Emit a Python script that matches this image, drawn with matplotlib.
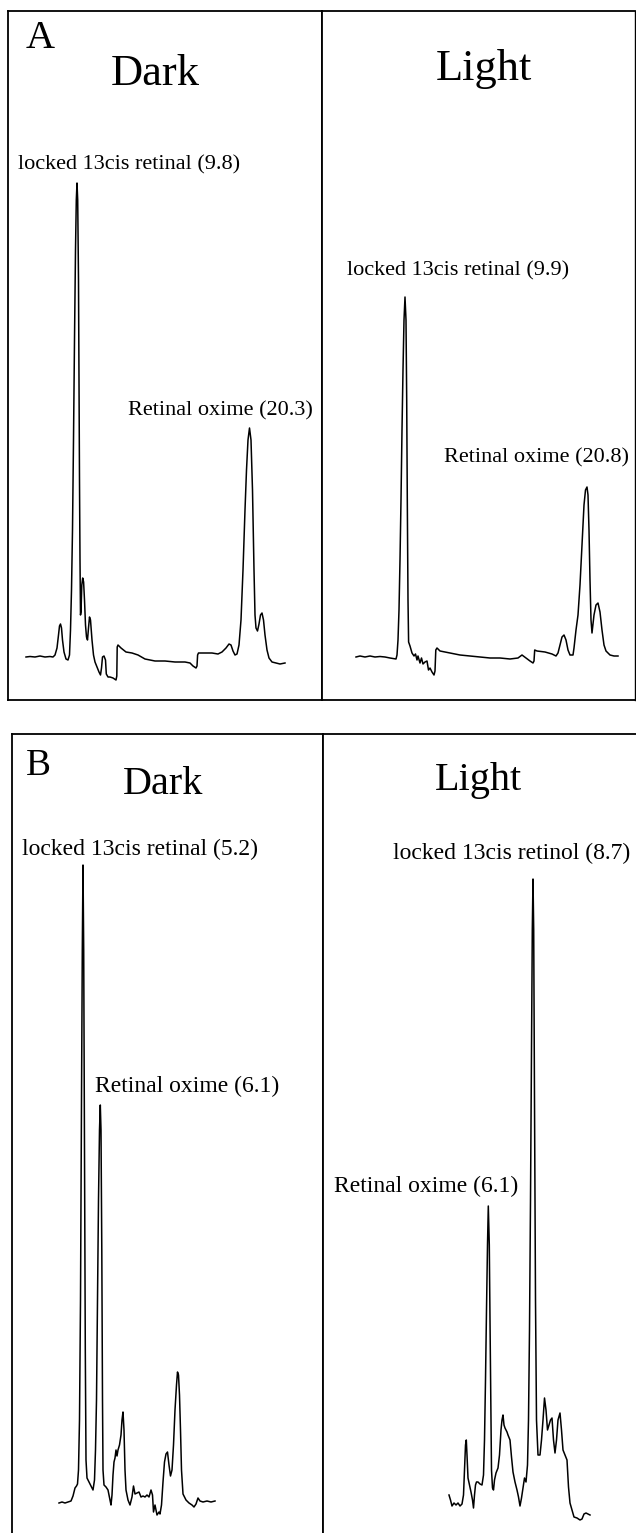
import numpy as np
import matplotlib.pyplot as plt

plt.rcParams['font.family'] = ['Liberation Serif', 'DejaVu Serif']

W, H = 636, 1533

# chromatogram traces (x position, trace level)
a_dark_x = [26, 30, 35, 40, 45, 50, 53, 55, 57, 58.5, 59.5, 60.5, 61.5, 62.5, 64, 66, 68, 69.5, 70.5, 71.5,
            72.5, 73.5, 74.5, 75.5, 76.3, 77, 77.7, 78.5, 79, 79.5, 80, 80.5, 81, 81.8, 82.7, 83.6, 84.5, 85.5,
            86.5, 87.5, 88.5, 89.5, 90.5, 92, 93.5, 95, 97, 99, 100.5, 101.5, 102.5, 104, 105.5, 106.3, 108,
            110, 113, 116, 116.8, 117.2, 118, 121, 126, 132, 138, 145, 155, 165, 175, 185, 190, 193, 196, 197,
            197.6, 198.5, 205, 212, 218, 222, 226, 229, 231, 233, 235, 237, 239, 241, 243, 245, 246.5, 248,
            249.5, 251, 252.5, 254, 255, 256, 257.5, 259, 260.5, 262, 263.5, 265, 267, 269, 272, 276, 280, 285]
a_dark_y = [657, 656.5, 657, 656, 657, 656.5, 657, 655, 648, 635, 626, 624, 628, 640, 652, 659, 660, 655, 630, 590,
            530, 440, 340, 250, 200, 183, 200, 280, 380, 480, 560, 615, 612, 585, 578, 582, 600, 625,
            637, 640, 628, 617, 620, 640, 655, 662, 667, 672, 675, 668, 657, 656, 660, 674, 677,
            677, 678, 680, 676, 647, 645, 648, 652, 653, 655, 659, 661, 661, 662, 662, 663, 666, 668, 666,
            655, 653, 653, 653, 654, 652, 648, 644, 645, 651, 655, 654, 645, 620, 570, 510, 470, 440,
            428, 440, 490, 570, 615, 628, 631, 624, 615, 613, 620, 635, 650, 658, 662, 663, 664, 663]

a_light_x = [356, 360, 365, 370, 375, 380, 385, 390, 396, 397, 398, 399, 400, 401, 402, 403, 404, 405, 406,
             406.7, 407.3, 408, 408.6, 410, 412, 414, 415.5, 417, 418, 420, 421.5, 423, 425, 427, 428.5, 430,
             432, 434, 435, 435.8, 437, 440, 450, 460, 470, 480, 490, 500, 510, 518, 522, 526, 530, 533,
             534, 534.7, 537, 545, 552, 556, 558, 560, 562, 564, 566, 568, 570, 573, 574, 576, 578, 580,
             582, 584, 585.5, 587, 588, 589, 590, 591, 592, 594, 596, 598, 600, 602, 604, 606, 610, 614, 618]
a_light_y = [657, 656, 657, 656, 657, 656.5, 657, 658, 659, 655, 640, 610, 560, 500, 430, 370, 320, 297, 320,
             400, 500, 600, 642, 646, 653, 656, 654, 660, 656, 663, 658, 664, 662, 661, 670, 668,
             672, 675, 671, 650, 648, 651, 653, 655, 656, 657, 658, 658, 659, 658, 655, 658, 661, 663,
             661, 650, 651, 652, 654, 656, 653, 645, 637, 635, 640, 650, 655, 655, 648, 630, 615, 585,
             545, 505, 490, 487, 495, 530, 580, 620, 633, 615, 605, 603, 612, 630, 645, 651, 655, 656, 656]

b_dark_x = [59, 62, 65, 68, 71, 73, 75, 76.5, 77.5, 78.5, 79.5, 80.5, 81.5, 82.3, 83, 83.7, 84.5, 85.3, 86,
            87, 89, 91, 93, 94.5, 95.5, 96.5, 97.5, 98.5, 99.5, 100.3, 101, 101.8, 102.5, 103, 104, 106,
            108, 110, 111, 112, 113, 114, 115, 116, 117, 118, 119.5, 121, 122, 123, 124, 125, 126, 128,
            130, 132, 133.5, 135, 137, 139, 141, 143, 145, 147, 149, 151, 152.5, 153.5, 155, 157, 159,
            160, 161.5, 163, 164.5, 166, 167.5, 169, 170.5, 172, 173.5, 175, 176.5, 177.5, 178.5, 179.5,
            180.5, 181.5, 183, 186, 189, 192, 194, 196, 198, 200, 203, 207, 211, 215]
b_dark_y = [1503, 1502, 1503, 1502, 1501, 1496, 1488, 1486, 1484, 1470, 1420, 1300, 1100, 950, 865, 950, 1150,
            1350, 1460, 1478, 1482, 1486, 1490, 1480, 1450, 1400, 1300, 1200, 1130, 1105, 1130, 1250, 1400,
            1470, 1485, 1487, 1490, 1500, 1505, 1495, 1475, 1462, 1458, 1450, 1456, 1450, 1445, 1435, 1420,
            1412, 1430, 1470, 1490, 1500, 1505, 1497, 1486, 1494, 1493, 1492, 1497, 1496, 1497, 1495, 1497,
            1490, 1495, 1512, 1505, 1515, 1512, 1514, 1505, 1482, 1462, 1454, 1452, 1465, 1476, 1470, 1445,
            1410, 1385, 1372, 1375, 1395, 1430, 1470, 1494, 1500, 1503, 1505, 1507, 1504, 1498, 1501, 1502,
            1501, 1502, 1501]

b_light_x = [449, 450.5, 452, 454, 456, 458, 460, 462, 463.5, 464.5, 465.5, 466.3, 467, 468, 469.5, 471,
             472.5, 473.5, 474.5, 475.5, 476.5, 478, 480, 482, 483.5, 484.5, 485.5, 486.5, 487.5, 488.3,
             489.3, 490, 490.8, 491.5, 492.5, 493.5, 494.5, 496, 498, 499.5, 501, 502, 503, 504, 505, 506,
             507, 508, 510, 511.5, 513, 515, 517, 518.5, 520, 521.5, 523, 524.5, 526, 527.5, 528.5, 529.5,
             530.5, 531.5, 532.3, 533, 533.7, 534.5, 535.5, 536.5, 538, 540, 541.5, 543, 544.5, 546, 547.5,
             549, 550.5, 552, 553.5, 555, 556.5, 558, 560, 561.5, 563, 565, 567, 568.5, 570, 572, 574, 577,
             580, 582, 584, 586, 588, 590]
b_light_y = [1495, 1500, 1506, 1503, 1505, 1503, 1506, 1504, 1495, 1470, 1445, 1440, 1455, 1478, 1485, 1492,
             1500, 1508, 1495, 1485, 1482, 1482, 1484, 1485, 1475, 1440, 1380, 1310, 1245, 1206,
             1245, 1320, 1400, 1470, 1488, 1490, 1480, 1473, 1468, 1455, 1430, 1420, 1415, 1425, 1428, 1430,
             1432, 1435, 1440, 1457, 1472, 1482, 1490, 1497, 1506, 1498, 1488, 1478, 1482, 1465, 1420, 1330,
             1200, 1050, 930, 879, 930, 1100, 1300, 1420, 1455, 1455, 1440, 1420, 1398, 1410, 1430,
             1425, 1420, 1418, 1440, 1453, 1440, 1420, 1413, 1430, 1450, 1455, 1460, 1487, 1503, 1510, 1517,
             1518, 1520, 1519, 1514, 1513, 1514, 1515]

fig = plt.figure(figsize=(W / 100, H / 100), dpi=100)


def panel(l, t, r, b):
    ax = fig.add_axes([l / W, 1 - b / H, (r - l) / W, (b - t) / H])
    ax.set_xlim(l, r)
    ax.set_ylim(H - b, H - t)
    ax.set_xticks([])
    ax.set_yticks([])
    for s in ax.spines.values():
        s.set_linewidth(1.3)
    return ax


def trace(ax, x, y):
    ax.plot(x, H - np.array(y), color='black', lw=1.1)


def label(ax, x, y, s, size, **kw):
    ax.text(x, H - y, s, fontsize=size, ha='center', va='center', **kw)


# panel A
ax1 = panel(7.5, 11, 322, 700)
ax2 = panel(322, 11, 635, 700)
ax2.spines['right'].set_linewidth(1.0)
trace(ax1, a_dark_x, a_dark_y)
trace(ax2, a_light_x, a_light_y)
label(ax1, 40.5, 39, 'A', 29)
ax1.text(155, H - 85, 'Dark', fontsize=32, ha='center', va='baseline')
ax2.text(484, H - 80, 'Light', fontsize=32, ha='center', va='baseline')
label(ax1, 129.5, 165, 'locked 13cis retinal (9.8)', 16)
label(ax1, 220, 411, 'Retinal oxime (20.3)', 16)
label(ax2, 458, 271, 'locked 13cis retinal (9.9)', 16)
label(ax2, 536.5, 458, 'Retinal oxime (20.8)', 16)

# panel B
ax3 = panel(12, 734, 323, 1545)
ax4 = panel(323, 734, 645, 1545)
trace(ax3, b_dark_x, b_dark_y)
trace(ax4, b_light_x, b_light_y)
ax3.text(38.5, H - 775, 'B', fontsize=27, ha='center', va='baseline')
ax3.text(163, H - 794, 'Dark', fontsize=29, ha='center', va='baseline')
ax4.text(478, H - 790, 'Light', fontsize=29, ha='center', va='baseline')
label(ax3, 140, 849, 'locked 13cis retinal (5.2)', 17)
label(ax3, 187, 1086, 'Retinal oxime (6.1)', 17)
label(ax4, 511.5, 853, 'locked 13cis retinol (8.7)', 17)
label(ax4, 426.5, 1186, 'Retinal oxime (6.1)', 17)

fig.savefig('out.png', dpi=100)
